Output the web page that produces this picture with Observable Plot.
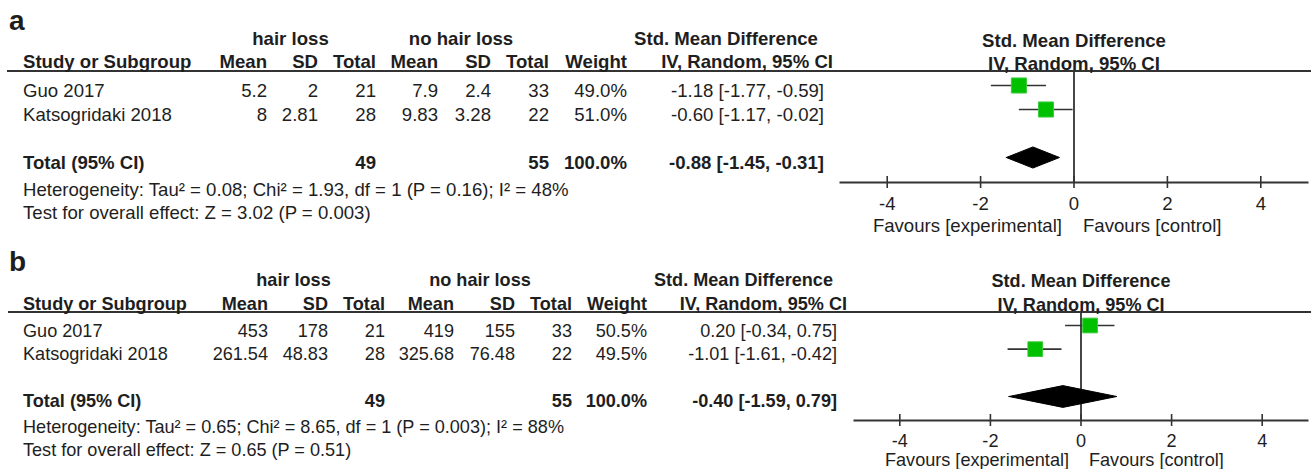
<!DOCTYPE html>
<html><head><meta charset="utf-8">
<script src="https://cdn.jsdelivr.net/npm/d3@7"></script>
<script src="https://cdn.jsdelivr.net/npm/@observablehq/plot@0.6"></script>
<style>
html,body{margin:0;padding:0;background:#fff;}
#root{position:relative;width:1311px;height:469px;overflow:hidden;font-family:"Liberation Sans",Arial,sans-serif;color:#1e1e1e;}
.panel{position:absolute;left:0;width:1311px;}
.t{position:absolute;white-space:nowrap;}
.rule{position:absolute;background:#333;}
.panel svg{position:absolute;left:0;top:0;}
</style></head><body><div id="root"></div>
<script>
// ---------- DATA ----------
const studies = ["Guo 2017", "Katsogridaki 2018"];
const totalLabel = "Total (95% CI)";
const groupHair = "hair loss";
const groupNoHair = "no hair loss";
const smdTitle = "Std. Mean Difference";
const smdMethod = "IV, Random, 95% CI";
const colHeads = ["Study or Subgroup", "Mean", "SD", "Total", "Mean", "SD", "Total", "Weight"];
const favLeft = "Favours [experimental]";
const favRight = "Favours [control]";
const xTicks = [-4, -2, 0, 2, 4];
const xDomain = [-5, 5];
const nullEffect = 0;

// panel a
const aHairMean = [5.2, 8];
const aHairSD = [2, 2.81];
const aHairN = [21, 28];
const aNoMean = [7.9, 9.83];
const aNoSD = [2.4, 3.28];
const aNoN = [33, 22];
const aWeight = [49.0, 51.0];
const aSMD = [-1.18, -0.60];
const aLo = [-1.77, -1.17];
const aHi = [-0.59, -0.02];
const aTotalN = [49, 55];
const aPooled = [-0.88, -1.45, -0.31];
const aHet = [0.08, 1.93, 1, "0.16", 48];   // Tau², Chi², df, P, I²
const aZ = [3.02, "0.003"];                 // Z, P

// panel b
const bHairMean = [453, 261.54];
const bHairSD = [178, 48.83];
const bHairN = [21, 28];
const bNoMean = [419, 325.68];
const bNoSD = [155, 76.48];
const bNoN = [33, 22];
const bWeight = [50.5, 49.5];
const bSMD = [0.20, -1.01];
const bLo = [-0.34, -1.61];
const bHi = [0.75, -0.42];
const bTotalN = [49, 55];
const bPooled = [-0.40, -1.59, 0.79];
const bHet = [0.65, 8.65, 1, "0.003", 88];
const bZ = [0.65, "0.51"];

// ---------- LAYOUT ----------
const FONT = '"Liberation Sans", Arial, sans-serif';
const W = 1311;
const layoutA = {
  letter: "a", top: 0, h: 235, fs: 18.6,
  letterX: 9, letterBase: 30.5, letterFs: 28,
  groupBase: 46, hairC: 290.5, noC: 461, smdHeadC: 726,
  headBase: 69, studyX: 23,
  cols: [267, 318, 376, 438, 491, 549, 627], ciHeadR: 833, ciR: 824,
  rowBase: [97.5, 122], totalBase: 169.5, hetBase: 197, testBase: 219.5,
  ruleTop: 69.5, ruleL: 7,
  ml: 840, mr: 4, mt: 71, mb: 53, yRange: [85, 157], half: 0.44, r: 8.5,
  tickPad: 8, favDy: 49.5, headDy: [-25, -2], favDx: [-12, 9]
};
const layoutB = {
  letter: "b", top: 235, h: 234, fs: 18.1,
  letterX: 9, letterBase: 36.7, letterFs: 28,
  groupBase: 51.5, hairC: 293.5, noC: 480, smdHeadC: 743.5,
  headBase: 75.5, studyX: 23,
  cols: [268, 328, 385, 454, 515, 572, 647], ciHeadR: 847, ciR: 837,
  rowBase: [102, 125.5], totalBase: 172, hetBase: 198, testBase: 221,
  ruleTop: 76, ruleL: 8,
  ml: 854, mr: 4, mt: 77, mb: 49, yRange: [90, 161], half: 0.46, r: 8.3,
  tickPad: 7.3, favDy: 45, headDy: [-25.5, -1.5], favDx: [-12, 8]
};

// ---------- HELPERS ----------
function txt(parent, s, x, base, align, fs, bold) {
  const d = document.createElement("div");
  d.className = "t";
  d.textContent = s;
  d.style.fontSize = fs + "px";
  d.style.lineHeight = fs + "px";
  d.style.top = (base - 0.8465 * fs) + "px";
  if (align === "end") d.style.right = (W - x) + "px";
  else if (align === "middle") { d.style.left = x + "px"; d.style.transform = "translateX(-50%)"; }
  else d.style.left = x + "px";
  if (bold) d.style.fontWeight = "bold";
  parent.appendChild(d);
}
const f2 = v => v.toFixed(2);
const ci = (e, l, h) => `${f2(e)} [${f2(l)}, ${f2(h)}]`;

function panel(D, L) {
  const root = document.getElementById("root");
  const p = document.createElement("div");
  p.className = "panel";
  p.style.top = L.top + "px";
  p.style.height = L.h + "px";
  root.appendChild(p);

  const rule = document.createElement("div");
  rule.className = "rule";
  rule.style.left = L.ruleL + "px";
  rule.style.width = (W - L.ruleL) + "px";
  rule.style.top = L.ruleTop + "px";
  rule.style.height = "2px";
  p.appendChild(rule);

  const fs = L.fs;
  txt(p, L.letter, L.letterX, L.letterBase, "start", L.letterFs, true);
  txt(p, groupHair, L.hairC, L.groupBase, "middle", fs, true);
  txt(p, groupNoHair, L.noC, L.groupBase, "middle", fs, true);
  txt(p, smdTitle, L.smdHeadC, L.groupBase, "middle", fs, true);
  txt(p, colHeads[0], L.studyX, L.headBase, "start", fs, true);
  colHeads.slice(1).forEach((h, i) => txt(p, h, L.cols[i], L.headBase, "end", fs, true));
  txt(p, smdMethod, L.ciHeadR, L.headBase, "end", fs, true);

  studies.forEach((s, i) => {
    const b = L.rowBase[i];
    txt(p, s, L.studyX, b, "start", fs, false);
    const vals = [D.hm[i], D.hsd[i], D.hn[i], D.nm[i], D.nsd[i], D.nn[i]].map(String);
    vals.push(D.w[i].toFixed(1) + "%");
    vals.forEach((v, j) => txt(p, v, L.cols[j], b, "end", fs, false));
    txt(p, ci(D.smd[i], D.lo[i], D.hi[i]), L.ciR, b, "end", fs, false);
  });
  txt(p, totalLabel, L.studyX, L.totalBase, "start", fs, true);
  txt(p, String(D.totN[0]), L.cols[2], L.totalBase, "end", fs, true);
  txt(p, String(D.totN[1]), L.cols[5], L.totalBase, "end", fs, true);
  txt(p, d3.sum(D.w).toFixed(1) + "%", L.cols[6], L.totalBase, "end", fs, true);
  txt(p, ci(D.pooled[0], D.pooled[1], D.pooled[2]), L.ciR, L.totalBase, "end", fs, true);
  const [tau, chi, df, ph, i2] = D.het;
  txt(p, `Heterogeneity: Tau² = ${f2(tau)}; Chi² = ${f2(chi)}, df = ${df} (P = ${ph}); I² = ${i2}%`, L.studyX, L.hetBase, "start", fs, false);
  txt(p, `Test for overall effect: Z = ${f2(D.z[0])} (P = ${D.z[1]})`, L.studyX, L.testBase, "start", fs, false);

  // forest plot
  const rows = studies.map((s, i) => ({study: s, row: i, smd: D.smd[i], lo: D.lo[i], hi: D.hi[i]}));
  const totalRow = studies.length + 1;
  const [pe, plo, phi] = D.pooled;
  const diamond = [
    {x: plo, y: totalRow}, {x: pe, y: totalRow - L.half},
    {x: phi, y: totalRow}, {x: pe, y: totalRow + L.half}, {x: plo, y: totalRow}
  ];
  const svg = Plot.plot({
    width: W, height: L.h,
    marginLeft: L.ml, marginRight: L.mr, marginTop: L.mt, marginBottom: L.mb,
    style: {fontFamily: FONT, fontSize: fs + "px", color: "#1e1e1e", background: "transparent", overflow: "visible"},
    x: {domain: xDomain},
    y: {domain: [0, totalRow], range: L.yRange, axis: null},
    marks: [
      Plot.ruleX([nullEffect], {stroke: "#333", strokeWidth: 1.8}),
      Plot.frame({anchor: "bottom", stroke: "#333", strokeWidth: 2}),
      Plot.axisX({ticks: xTicks, tickSize: 12, dy: -6, tickPadding: L.tickPad, strokeWidth: 1.6,
                  fontSize: fs, fill: "#1e1e1e", stroke: "#333", tickFormat: d => String(d)}),
      Plot.ruleY(rows, {y: "row", x1: "lo", x2: "hi", stroke: "#333", strokeWidth: 1.6}),
      Plot.dot(rows, {x: "smd", y: "row", symbol: "square", r: L.r, fill: "#00c000", stroke: "#3ccc3c", strokeWidth: 1}),
      Plot.line(diamond, {x: "x", y: "y", fill: "#000", stroke: "#000", strokeWidth: 1}),
      Plot.text([smdTitle], {x: [nullEffect], frameAnchor: "top", lineAnchor: "bottom", dy: L.headDy[0], fontWeight: "bold", fill: "#1e1e1e"}),
      Plot.text([smdMethod], {x: [nullEffect], frameAnchor: "top", lineAnchor: "bottom", dy: L.headDy[1], fontWeight: "bold", fill: "#1e1e1e"}),
      Plot.text([favLeft], {x: [nullEffect], frameAnchor: "bottom", lineAnchor: "bottom", textAnchor: "end", dx: L.favDx[0], dy: L.favDy, fill: "#1e1e1e"}),
      Plot.text([favRight], {x: [nullEffect], frameAnchor: "bottom", lineAnchor: "bottom", textAnchor: "start", dx: L.favDx[1], dy: L.favDy, fill: "#1e1e1e"})
    ]
  });
  p.appendChild(svg);
}

panel({hm: aHairMean, hsd: aHairSD, hn: aHairN, nm: aNoMean, nsd: aNoSD, nn: aNoN, w: aWeight,
       smd: aSMD, lo: aLo, hi: aHi, totN: aTotalN, pooled: aPooled, het: aHet, z: aZ}, layoutA);
panel({hm: bHairMean, hsd: bHairSD, hn: bHairN, nm: bNoMean, nsd: bNoSD, nn: bNoN, w: bWeight,
       smd: bSMD, lo: bLo, hi: bHi, totN: bTotalN, pooled: bPooled, het: bHet, z: bZ}, layoutB);
</script></body></html>
